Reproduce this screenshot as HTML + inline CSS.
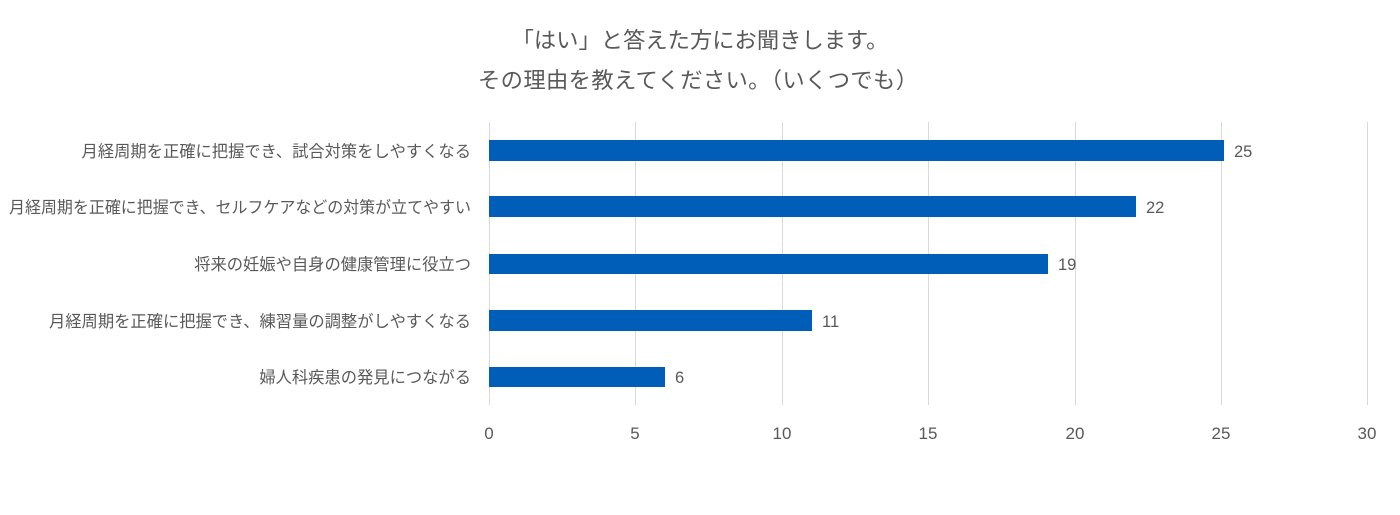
<!DOCTYPE html>
<html><head><meta charset="utf-8"><style>
body{margin:0;background:#fff;}
svg text{font-family:"Liberation Sans","Noto Sans CJK JP",sans-serif;fill:#595959;}
</style></head><body>
<svg width="1400" height="510" xmlns="http://www.w3.org/2000/svg">
<rect width="1400" height="510" fill="#fff"/>
<text x="700" y="48" font-size="22.3" text-anchor="middle">「はい」と答えた方にお聞きします。</text>
<text x="698" y="88" font-size="22.3" text-anchor="middle" textLength="440" lengthAdjust="spacing">その理由を教えてください。（いくつでも）</text>
<g stroke="#d9d9d9" stroke-width="1">
<line x1="489.5" y1="122" x2="489.5" y2="405"/>
<line x1="635.5" y1="122" x2="635.5" y2="405"/>
<line x1="782.5" y1="122" x2="782.5" y2="405"/>
<line x1="928.5" y1="122" x2="928.5" y2="405"/>
<line x1="1075.5" y1="122" x2="1075.5" y2="405"/>
<line x1="1221.5" y1="122" x2="1221.5" y2="405"/>
<line x1="1367.5" y1="122" x2="1367.5" y2="405"/>
</g>
<g fill="#005EB8">
<rect x="489" y="140" width="735" height="21"/>
<rect x="489" y="196" width="647" height="21"/>
<rect x="489" y="254" width="559" height="20"/>
<rect x="489" y="310" width="323" height="21"/>
<rect x="489" y="367" width="176" height="20"/>
</g>
<g font-size="16.5">
<text x="1234" y="157">25</text>
<text x="1146" y="213">22</text>
<text x="1058" y="270">19</text>
<text x="822" y="327">11</text>
<text x="675" y="383">6</text>
</g>
<g font-size="16.3" text-anchor="end">
<text x="471" y="157">月経周期を正確に把握でき、試合対策をしやすくなる</text>
<text x="471" y="213" textLength="462" lengthAdjust="spacingAndGlyphs">月経周期を正確に把握でき、セルフケアなどの対策が立てやすい</text>
<text x="471" y="270">将来の妊娠や自身の健康管理に役立つ</text>
<text x="471" y="327">月経周期を正確に把握でき、練習量の調整がしやすくなる</text>
<text x="471" y="383">婦人科疾患の発見につながる</text>
</g>
<g font-size="17" text-anchor="middle">
<text x="489" y="439">0</text>
<text x="635" y="439">5</text>
<text x="782" y="439">10</text>
<text x="928" y="439">15</text>
<text x="1075" y="439">20</text>
<text x="1221" y="439">25</text>
<text x="1367" y="439">30</text>
</g>
</svg>
</body></html>
